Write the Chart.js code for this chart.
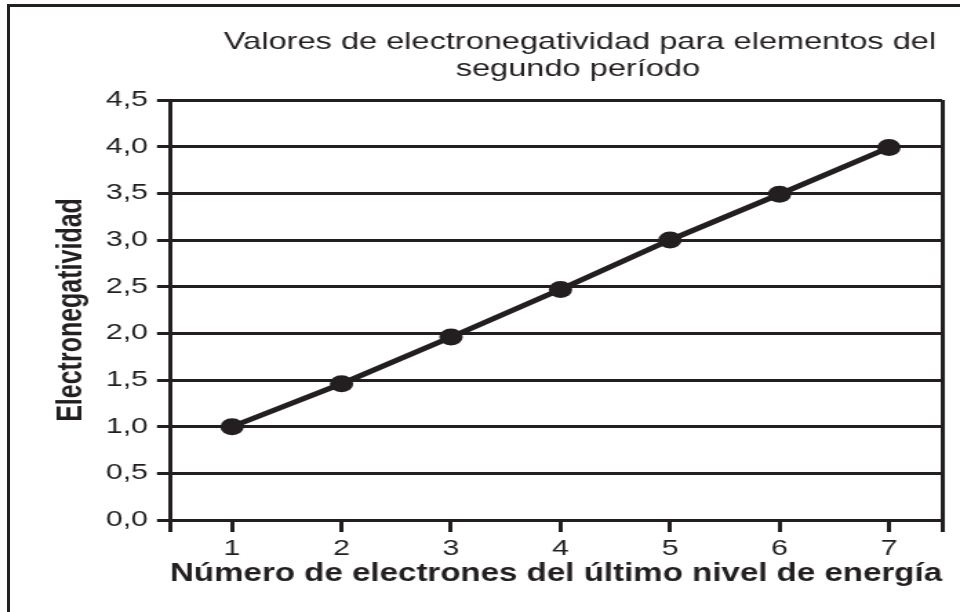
<!DOCTYPE html>
<html>
<head>
<meta charset="utf-8">
<script src="https://cdn.jsdelivr.net/npm/chart.js@4"></script>
<style>
  html, body { margin: 0; padding: 0; background: #fff; overflow: hidden; }
  body { width: 960px; height: 612px; position: relative; }
  /* frame of the scanned figure: only left and top edges show */
  .frame {
    position: absolute; left: 7px; top: 4px; width: 980px; height: 640px;
    border-left: 3px solid #231f20; border-top: 3px solid #231f20;
  }
  /* the original figure is stretched horizontally, so draw narrow and stretch */
  .wrap {
    position: absolute; left: 0; top: 0; width: 696px; height: 612px;
    transform: scaleX(1.37931); transform-origin: 0 0;
  }
</style>
</head>
<body>
<div class="frame"></div>
<div class="wrap"><canvas id="chart"></canvas></div>
<script>
// Data
const electrons = [1, 2, 3, 4, 5, 6, 7];
const electroneg = [1.0, 1.46, 1.96, 2.47, 3.0, 3.49, 3.99];
const yTicks = [0, 0.5, 1, 1.5, 2, 2.5, 3, 3.5, 4, 4.5];
const yTickLabels = ['0,0', '0,5', '1,0', '1,5', '2,0', '2,5', '3,0', '3,5', '4,0', '4,5'];
const titleLines = ['Valores de electronegatividad para elementos del', 'segundo período'];

const ink = '#231f20';
const xMin = 0.434, xMax = 7.485;

// Title drawn over the plot, centred like the original
const titlePlugin = {
    id: 'figTitle',
    afterDraw(chart) {
        const ctx = chart.ctx;
        ctx.save();
        ctx.fillStyle = ink;
        ctx.font = "23.6px 'Liberation Sans', Arial, sans-serif";
        ctx.textAlign = 'center';
        ctx.textBaseline = 'alphabetic';
        ctx.fillText(titleLines[0], 420.5, 49);
        ctx.fillText(titleLines[1], 419, 76);
        ctx.restore();
    }
};

const ctx = document.getElementById('chart').getContext('2d');
const chart = new Chart(ctx, {
    type: 'line',
    data: {
        datasets: [{
            data: electrons.map((x, i) => ({ x: x, y: electroneg[i] })),
            borderColor: ink,
            backgroundColor: ink,
            borderWidth: 5,
            pointRadius: 8.5,
            pointHoverRadius: 8.5,
            pointBackgroundColor: ink,
            pointBorderWidth: 0,
            tension: 0,
            fill: false
        }]
    },
    options: {
        responsive: true,
        maintainAspectRatio: false,
        animation: false,
        layout: {
            padding: { top: 100, right: 13, left: 0, bottom: 0 }
        },
        plugins: {
            legend: { display: false },
            tooltip: { enabled: false },
            title: { display: false }
        },
        scales: {
            x: {
                type: 'linear',
                min: xMin,
                max: xMax,
                afterBuildTicks: function(scale) {
                    scale.ticks = [xMin].concat(electrons, [xMax]).map(v => ({ value: v }));
                },
                afterFit: function(scale) {
                    scale.height = 92;
                },
                border: { display: false },
                grid: {
                    lineWidth: 3,
                    tickLength: 12,
                    tickWidth: 3,
                    tickColor: ink,
                    color: function(c) {
                        const v = c.tick ? c.tick.value : null;
                        return (v === xMin || v === xMax) ? ink : 'rgba(0,0,0,0)';
                    }
                },
                ticks: {
                    autoSkip: false,
                    maxRotation: 0,
                    padding: 4,
                    color: ink,
                    font: { family: "'Liberation Sans', Arial, sans-serif", size: 22 },
                    callback: function(value) {
                        return electrons.includes(value) ? String(value) : '';
                    }
                },
                title: {
                    display: true,
                    text: 'Número de electrones del último nivel de energía',
                    color: ink,
                    font: { family: "'Liberation Sans', Arial, sans-serif", size: 25, weight: 'bold' },
                    padding: { top: 0, bottom: 23 }
                }
            },
            y: {
                min: 0,
                max: 4.5,
                afterBuildTicks: function(scale) {
                    scale.ticks = yTicks.map(v => ({ value: v }));
                },
                afterFit: function(scale) {
                    scale.width = 123.3;
                },
                border: { display: false },
                grid: {
                    color: ink,
                    lineWidth: 3,
                    tickLength: 9.5,
                    tickColor: ink
                },
                ticks: {
                    padding: 6.5,
                    color: ink,
                    font: { family: "'Liberation Sans', Arial, sans-serif", size: 22 },
                    callback: function(value, index) {
                        return yTickLabels[index];
                    }
                },
                title: {
                    display: true,
                    text: 'Electronegatividad',
                    color: ink,
                    font: { family: "'Liberation Sans', Arial, sans-serif", size: 25, weight: 'bold' },
                    padding: { top: 37, bottom: 0 }
                }
            }
        }
    },
    plugins: [titlePlugin]
});
</script>
</body>
</html>
